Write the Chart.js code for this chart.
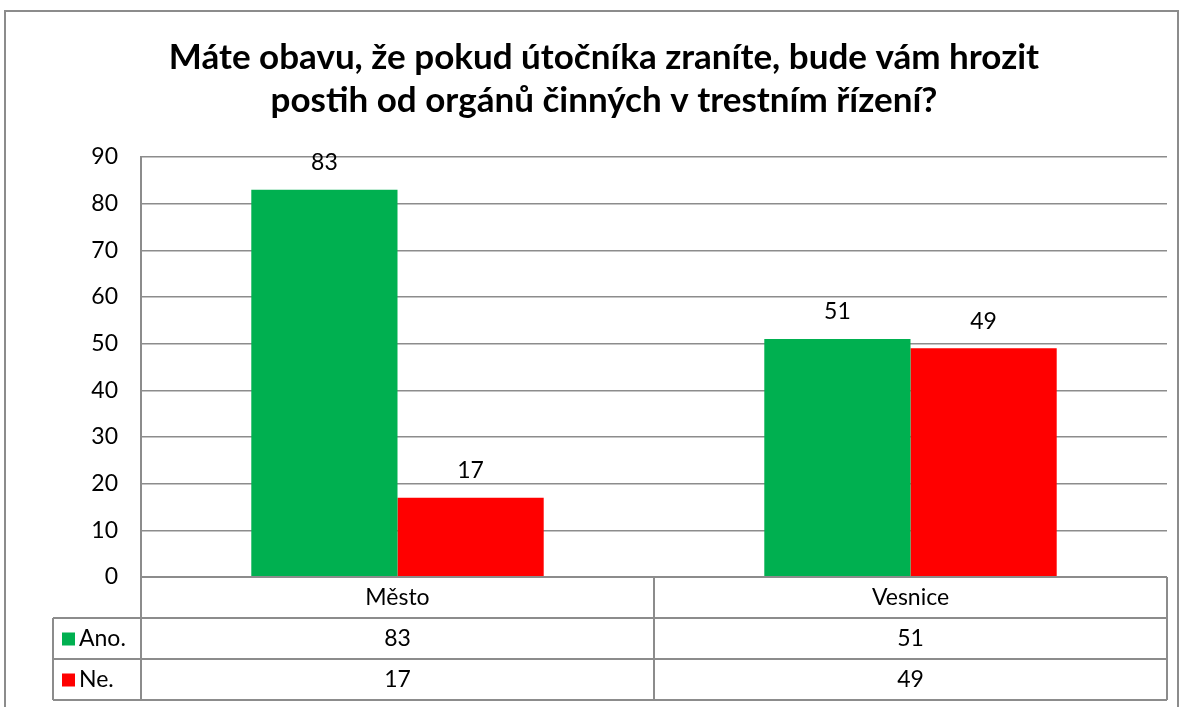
<!DOCTYPE html>
<html>
<head>
<meta charset="utf-8">
<script src="https://cdn.jsdelivr.net/npm/chart.js@4"></script>
<style>
    html, body { margin: 0; padding: 0; background: #fff; }
    #wrap { width: 1184px; height: 707px; }
</style>
</head>
<body>
<div id="wrap"><canvas id="chartObava"></canvas></div>
<script>
const categories = ["Město", "Vesnice"];
const seriesNames = ["Ano.", "Ne."];
const anoValues = [83, 51];
const neValues = [17, 49];
const yTicks = [0, 10, 20, 30, 40, 50, 60, 70, 80, 90];
const titleLines = ["Máte obavu, že pokud útočníka zraníte, bude vám hrozit", "postih od orgánů činných v trestním řízení?"];

const FONT = "Lato, 'Open Sans', sans-serif";
const GRID = "#8c8c8c";

// frame + title
const framePlugin = {
    id: "frame",
    beforeDraw(chart) {
        const ctx = chart.ctx;
        ctx.save();
        ctx.fillStyle = "#fff";
        ctx.fillRect(0, 0, chart.width, chart.height);
        ctx.strokeStyle = "#8c8c8c";
        ctx.lineWidth = 2;
        ctx.strokeRect(5, 11, 1173, 720);
        ctx.fillStyle = "#000";
        ctx.font = "bold 35px " + FONT;
        ctx.textAlign = "center";
        ctx.textBaseline = "middle";
        ctx.fillText(titleLines[0], 604, 58);
        ctx.fillText(titleLines[1], 604, 101);
        ctx.restore();
    }
};

// value labels above the bars
const valueLabels = {
    id: "valueLabels",
    afterDatasetsDraw(chart) {
        const ctx = chart.ctx;
        ctx.save();
        ctx.fillStyle = "#000";
        ctx.font = "23px " + FONT;
        ctx.textAlign = "center";
        ctx.textBaseline = "middle";
        chart.data.datasets.forEach((ds, i) => {
            chart.getDatasetMeta(i).data.forEach((bar, j) => {
                ctx.fillText(ds.data[j], bar.x, bar.y - 27);
            });
        });
        ctx.restore();
    }
};

// excel style data table under the plot
const dataTable = {
    id: "dataTable",
    afterDraw(chart) {
        const ctx = chart.ctx;
        const area = chart.chartArea;
        const xs = chart.scales.x;
        const rowH = 41;
        const top = area.bottom;
        const legendLeft = 53;
        const step = (area.right - area.left) / categories.length;

        ctx.save();
        ctx.strokeStyle = GRID;
        ctx.lineWidth = 2;

        ctx.beginPath();
        ctx.moveTo(area.left, top); ctx.lineTo(area.right, top);
        for (let r = 1; r <= 3; r++) {
            ctx.moveTo(legendLeft, top + r * rowH);
            ctx.lineTo(area.right, top + r * rowH);
        }
        for (let c = 0; c <= categories.length; c++) {
            const x = area.left + c * step;
            ctx.moveTo(x, top);
            ctx.lineTo(x, top + 3 * rowH);
        }
        ctx.moveTo(legendLeft, top + rowH);
        ctx.lineTo(legendLeft, top + 3 * rowH);
        ctx.stroke();

        ctx.fillStyle = "#000";
        ctx.font = "23px " + FONT;
        ctx.textAlign = "center";
        ctx.textBaseline = "middle";
        categories.forEach((cat, j) => {
            const cx = xs.getPixelForValue(j);
            ctx.fillText(cat, cx, top + rowH / 2);
            chart.data.datasets.forEach((ds, i) => {
                ctx.fillText(ds.data[j], cx, top + rowH * (i + 1.5));
            });
        });

        chart.data.datasets.forEach((ds, i) => {
            const cy = top + rowH * (i + 1.5);
            ctx.fillStyle = ds.backgroundColor;
            ctx.fillRect(62, cy - 6, 13, 13);
            ctx.fillStyle = "#000";
            ctx.textAlign = "left";
            ctx.fillText(seriesNames[i], 79, cy);
        });
        ctx.restore();
    }
};

new Chart(document.getElementById("chartObava"), {
    type: "bar",
    data: {
        labels: categories,
        datasets: [
            {
                label: seriesNames[0],
                data: anoValues,
                backgroundColor: "#00b050"
            },
            {
                label: seriesNames[1],
                data: neValues,
                backgroundColor: "#ff0000"
            }
        ]
    },
    options: {
        responsive: true,
        maintainAspectRatio: false,
        animation: false,
        layout: {
            padding: { top: 157, right: 17, bottom: 130, left: 0 }
        },
        datasets: {
            bar: {
                categoryPercentage: 0.57,
                barPercentage: 1
            }
        },
        plugins: {
            legend: { display: false },
            tooltip: { enabled: false }
        },
        scales: {
            x: {
                display: false
            },
            y: {
                min: 0,
                max: 90,
                afterBuildTicks(axis) {
                    axis.ticks = yTicks.map(v => ({ value: v }));
                },
                afterFit(axis) {
                    axis.width = 141;
                },
                border: { color: GRID, width: 2 },
                grid: { color: GRID, lineWidth: 1.5, drawTicks: false },
                ticks: {
                    color: "#000",
                    padding: 23,
                    font: { family: FONT, size: 23 }
                }
            }
        }
    },
    plugins: [framePlugin, valueLabels, dataTable]
});
</script>
</body>
</html>
